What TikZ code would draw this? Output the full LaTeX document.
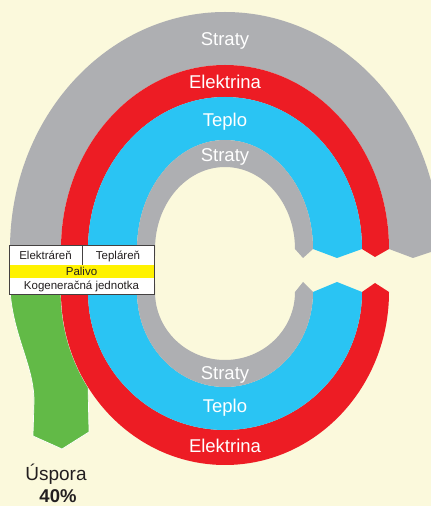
\documentclass[tikz,border=0pt]{standalone}
\usepackage{fontspec}
\setmainfont{Liberation Sans}
\definecolor{bg}{HTML}{FBF9DC}
\definecolor{loss}{HTML}{AEAFB2}
\definecolor{elec}{HTML}{ED1C24}
\definecolor{heat}{HTML}{2AC4F3}
\definecolor{save}{HTML}{62BA47}
\definecolor{fuel}{HTML}{FFF200}
\definecolor{ink}{HTML}{231F20}
\tikzset{
  band/.style={draw=none},
  bandlabel/.style={anchor=base, text=white, inner sep=0pt, font=\fontsize{18.5}{20}\selectfont},
  celltext/.style={anchor=base, text=ink, inner sep=0pt, font=\fontsize{11.5}{13}\selectfont},
  boxline/.style={draw=ink!85, line width=0.8pt},
  notetext/.style={anchor=base, text=ink, inner sep=0pt},
}
\begin{document}
\begin{tikzpicture}[x=1pt,y=1pt]
  \useasboundingbox (0,0) rectangle (431,506);
  \fill[bg] (0,0) rectangle (431,506);

  % savings flow leaving the unit downwards
  \fill[save, draw=white, line width=0.7pt]
    (10,216) .. controls (13,170) and (34,140) .. (34,105) -- (33,70)
    -- (62,57) -- (89,74) -- (88.1,118.8)
    arc[start angle=213.4, end angle=180, x radius=164, y radius=173]
    -- (61,216) -- cycle;

  % upper half: separate production (centre 225,257)
  \fill[loss] (10,250) -- (10,257)
    arc[start angle=180, end angle=0, x radius=215, y radius=237]
    -- (413,248) -- (389,257)
    arc[start angle=0, end angle=180, x radius=164, y radius=184]
    -- (61,250) -- cycle;
  \fill[elec] (61,250) -- (61,257)
    arc[start angle=180, end angle=0, x radius=164, y radius=184]
    -- (375,249) -- (362,257)
    arc[start angle=0, end angle=180, x radius=137, y radius=152]
    -- (88,250) -- cycle;
  \fill[heat] (88,250) -- (88,257)
    arc[start angle=180, end angle=0, x radius=137, y radius=152]
    -- (337,248) -- (313,257)
    arc[start angle=0, end angle=180, x radius=88, y radius=109]
    -- (137,250) -- cycle;
  \fill[loss] (137,250) -- (137,257)
    arc[start angle=180, end angle=0, x radius=88, y radius=109]
    -- (303,248) -- (295,257)
    arc[start angle=0, end angle=180, x radius=70, y radius=82]
    -- (155,250) -- cycle;

  % lower half: cogeneration (centre 225,214)
  \fill[elec] (61,222) -- (61,214)
    arc[start angle=180, end angle=360, x radius=164, y radius=173]
    -- (375,223) -- (362,214)
    arc[start angle=360, end angle=180, x radius=137, y radius=138]
    -- (88,222) -- cycle;
  \fill[heat] (88,222) -- (88,214)
    arc[start angle=180, end angle=360, x radius=137, y radius=138]
    -- (337,224) -- (313,214)
    arc[start angle=360, end angle=180, x radius=88, y radius=95]
    -- (137,222) -- cycle;
  \fill[loss] (137,222) -- (137,214)
    arc[start angle=180, end angle=360, x radius=88, y radius=95]
    -- (303,224) -- (295,214)
    arc[start angle=360, end angle=180, x radius=70, y radius=68]
    -- (155,222) -- cycle;

  % band labels
  \node[bandlabel] (sU) at (225,460.5) {Straty};
  \node[bandlabel] (eU) at (225,417) {Elektrina};
  \node[bandlabel] (hU) at (225,379) {Teplo};
  \node[bandlabel] (iU) at (225,344) {Straty};
  \node[bandlabel] (iL) at (225,126) {Straty};
  \node[bandlabel] (hL) at (225,93) {Teplo};
  \node[bandlabel] (eL) at (225,53) {Elektrina};

  % plant box
  \fill[white] (9,212) rectangle (154,261);
  \fill[fuel] (9,228) rectangle (154,241);
  \draw[boxline] (9,212) rectangle (154,261);
  \draw[boxline] (82,241) -- (82,261);
  \node[celltext] (plantE) at (45.5,246) {Elektráreň};
  \node[celltext] (plantH) at (118,246) {Tepláreň};
  \node[celltext] (plantF) at (81.5,230) {Palivo};
  \node[celltext] (plantC) at (81.5,216.7) {Kogeneračná jednotka};

  % savings caption
  \node[notetext, font=\fontsize{19}{21}\selectfont] (sav) at (56,25) {Úspora};
  \node[notetext, font=\fontsize{18.5}{21}\selectfont\bfseries] (pct) at (58,3.5) {40\%};
\end{tikzpicture}
\end{document}
